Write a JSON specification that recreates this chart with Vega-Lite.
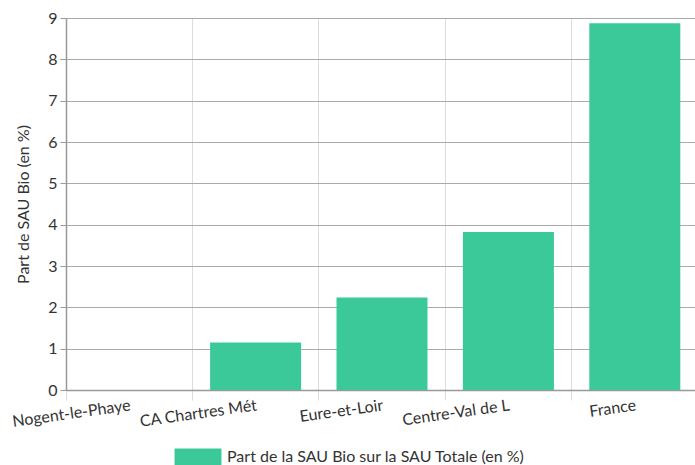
{
  "$schema": "https://vega.github.io/schema/vega-lite/v6.json",
  "autosize": "none",
  "padding": {"left": 66, "top": 18, "right": 0, "bottom": 75},
  "width": 632,
  "height": 372,
  "data": {"values": [
    {"zone": "Nogent-le-Phaye", "part": 0, "serie": "Part de la SAU Bio sur la SAU Totale (en %)"},
    {"zone": "CA Chartres Mét", "part": 1.15, "serie": "Part de la SAU Bio sur la SAU Totale (en %)"},
    {"zone": "Eure-et-Loir", "part": 2.24, "serie": "Part de la SAU Bio sur la SAU Totale (en %)"},
    {"zone": "Centre-Val de L", "part": 3.82, "serie": "Part de la SAU Bio sur la SAU Totale (en %)"},
    {"zone": "France", "part": 8.87, "serie": "Part de la SAU Bio sur la SAU Totale (en %)"}
  ]},
  "config": {
    "font": "Lato",
    "view": {"stroke": null}
  },
  "mark": {"type": "bar", "width": {"band": 0.72}},
  "encoding": {
    "x": {
      "field": "zone", "type": "nominal", "sort": null,
      "scale": {"paddingInner": 0, "paddingOuter": 0},
      "axis": {
        "title": null,
        "bandPosition": 0,
        "labelOffset": 0,
        "labelAngle": -8,
        "labelAlign": "right",
        "labelBaseline": "top",
        "labelFontSize": 16,
        "labelColor": "#333",
        "labelPadding": -3,
        "grid": true,
        "gridColor": "#dcdcdc",
        "gridWidth": 1,
        "tickColor": "#dcdcdc",
        "tickSize": 10,
        "domainColor": "#999",
        "domainWidth": 1.5
      }
    },
    "y": {
      "field": "part", "type": "quantitative",
      "scale": {"domain": [0, 9], "nice": false},
      "axis": {
        "title": "Part de SAU Bio (en %)",
        "titleFontSize": 16,
        "titleFontWeight": "normal",
        "titleColor": "#333",
        "titlePadding": 16,
        "values": [0,1,2,3,4,5,6,7,8,9],
        "labelFontSize": 16,
        "labelColor": "#333",
        "labelPadding": 3,
        "tickSize": 6,
        "tickColor": "#999",
        "grid": true,
        "gridColor": "#aaa",
        "gridWidth": 1.2,
        "domainColor": "#999",
        "domainWidth": 1.5
      }
    },
    "color": {
      "field": "serie", "type": "nominal",
      "scale": {"range": ["#3cc999"]},
      "legend": {
        "title": null,
        "orient": "none",
        "legendX": 115,
        "legendY": 422,
        "direction": "horizontal",
        "symbolType": "M-1.38,-0.5H1.38V0.5H-1.38Z",
        "symbolSize": 1156,
        "symbolStrokeWidth": 0,
        "symbolOpacity": 1,
        "labelFontSize": 16,
        "labelColor": "#333",
        "labelLimit": 400,
        "labelOffset": 12
      }
    }
  }
}
